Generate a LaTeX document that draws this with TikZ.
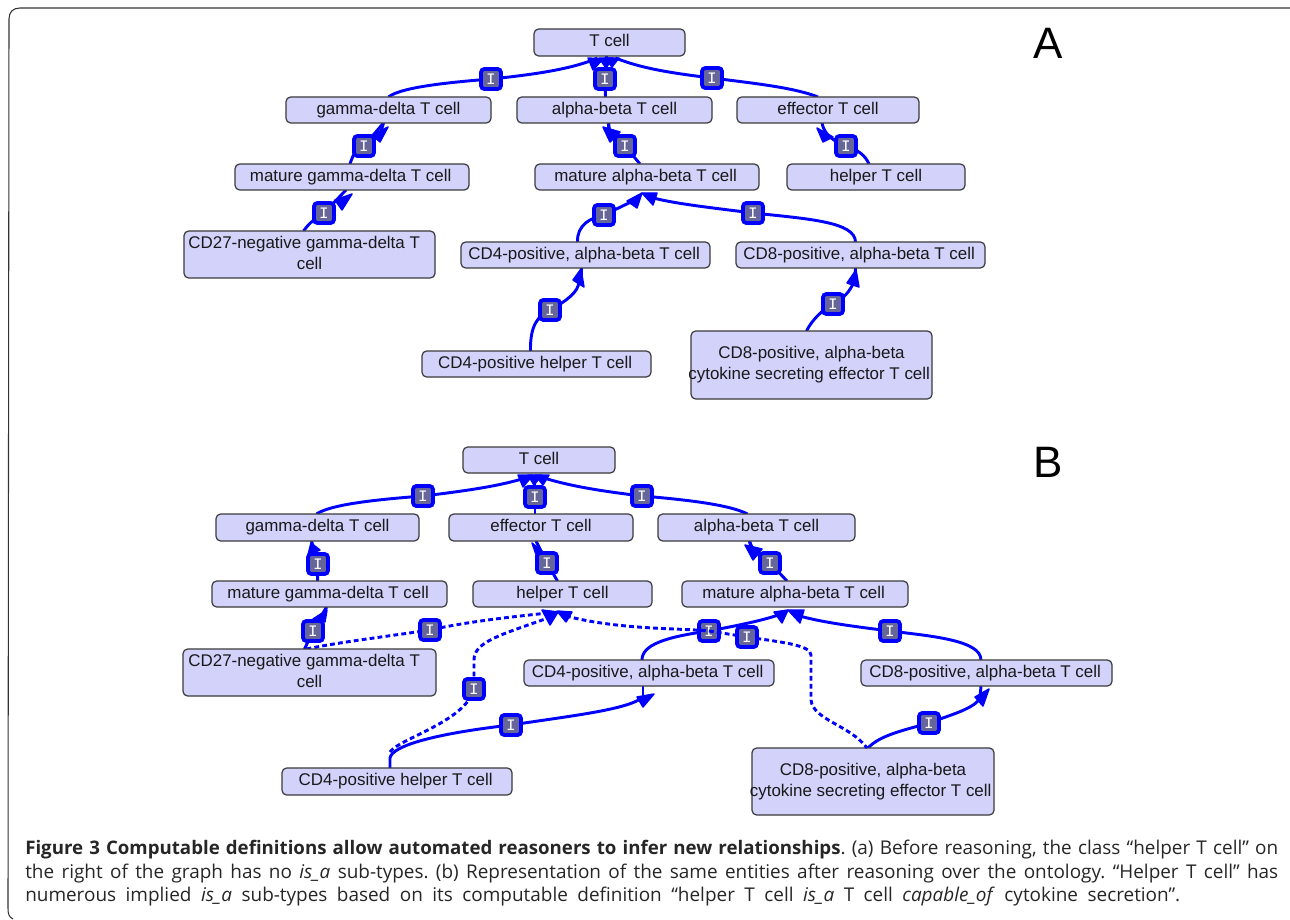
\documentclass[tikz,border=0pt]{standalone}
\usepackage{fontspec}
\setmainfont{Liberation Sans}
\newfontfamily\capfont{Open Sans}
\newfontfamily\badgefont{Liberation Mono}
\usetikzlibrary{calc,backgrounds}
\definecolor{nodefill}{HTML}{D2D2FB}
\definecolor{nodeline}{HTML}{3A3A3A}
\definecolor{badgefill}{HTML}{666699}
\definecolor{linkblue}{HTML}{0000FF}
\tikzset{
  box/.style={draw=nodeline,fill=nodefill,line width=0.9pt,rounded corners=3.5pt,inner sep=0pt,outer sep=0pt,text=black!90},
  badge/.style={draw=linkblue,fill=badgefill,line width=2.8pt,rounded corners=2.5pt,minimum size=15pt,inner sep=0pt,outer sep=0pt,text=white,font=\badgefont\fontsize{12}{12}\selectfont},
  edge/.style={draw=linkblue,line width=2.2pt},
  implied/.style={draw=linkblue,line width=2.2pt,dash pattern=on 3.6pt off 2.4pt},
  bigletter/.style={inner sep=0pt,font=\fontsize{33}{33}\selectfont,text=black},
  head/.style={fill=linkblue,draw=linkblue,line width=1.1pt,line join=round},
  captiontext/.style={anchor=north west,inner sep=0pt,align=left,text=black!85,font=\capfont\fontsize{14.2}{17.6}\selectfont\frenchspacing},
}
\newcommand{\nd}[6]{\node[box,minimum width={(#4-#2)*0.75pt},minimum height={(#5-#3)*0.75pt}] (#1) at ({(#2+#4)/2},{(#3+#5)/2})
  {\fontsize{12.7}{15.75}\selectfont\makebox[0pt][c]{\raisebox{1.5pt}{\begin{tabular}[c]{@{}c@{}}#6\end{tabular}}}};}
\newcommand{\bd}[3]{\node[badge] (#1) at (#2,#3) {I};}
\newcommand{\tri}[3]{\path[head] (#1)--(#2)--(#3)--cycle;}
\begin{document}
\begin{tikzpicture}[x=0.75pt,y=-0.75pt]
\useasboundingbox (0,0) rectangle (1290,920);
% ---------- A nodes
\nd{atc}{534}{29}{685}{56}{T cell}
\nd{agd}{286}{97}{491}{123}{gamma-delta T cell}
\nd{aab}{517}{97}{712}{123}{alpha-beta T cell}
\nd{aef}{737}{97}{919}{123}{effector T cell}
\nd{amg}{235}{164}{469}{190}{mature gamma-delta T cell\kern2pt}
\nd{ama}{535}{164}{759}{190}{mature alpha-beta T cell\kern2pt}
\nd{ahe}{787}{164}{965}{190}{helper T cell}
\nd{acn}{184}{231}{435}{278}{CD27-negative gamma-delta T\kern8pt\\cell}
\nd{acf}{461}{242}{710}{268}{CD4-positive, alpha-beta T cell\kern2pt}
\nd{ace}{736}{242}{985}{268}{CD8-positive, alpha-beta T cell\kern2pt}
\nd{ach}{422}{351}{651}{377}{CD4-positive helper T cell\kern2pt}
\nd{acy}{691}{331}{932}{399}{CD8-positive, alpha-beta\\cytokine secreting effector T cell\kern3.5pt\\ }
% ---------- B nodes
\nd{btc}{463}{447}{615}{473}{T cell}
\nd{bgd}{216}{514}{419}{541}{gamma-delta T cell}
\nd{bef}{449}{514}{633}{541}{effector T cell}
\nd{bab}{658}{514}{855}{541}{alpha-beta T cell}
\nd{bmg}{212}{581}{447}{607}{mature gamma-delta T cell\kern2pt}
\nd{bhe}{473}{581}{652}{607}{helper T cell}
\nd{bma}{682}{581}{908}{607}{mature alpha-beta T cell\kern2pt}
\nd{bcn}{183}{649}{436}{696}{CD27-negative gamma-delta T\kern8pt\\cell}
\nd{bcf}{524}{660}{774}{686}{CD4-positive, alpha-beta T cell\kern2pt}
\nd{bce}{861}{660}{1112}{686}{CD8-positive, alpha-beta T cell\kern2pt}
\nd{bch}{282}{768}{512}{795}{CD4-positive helper T cell\kern2pt}
\nd{bcy}{752}{748}{994}{815}{CD8-positive, alpha-beta\\cytokine secreting effector T cell\kern3.5pt\\ }
% ---------- badges
\bd{a1}{491}{79}\bd{a2}{605}{79}\bd{a3}{712}{78}\bd{a4}{364}{146}\bd{a5}{625}{146}\bd{a6}{846}{146}
\bd{a7}{324}{213}\bd{a8}{604}{215}\bd{a9}{753}{213}\bd{a10}{550}{310}\bd{a11}{833}{304}
\bd{b1}{423}{496}\bd{b2}{535}{497}\bd{b3}{642}{496}\bd{b4}{318}{564}\bd{b5}{547}{563}\bd{b6}{770}{563}
\bd{b7}{313}{631}\bd{b8}{430}{630}\bd{b9}{474}{689}\bd{b10}{511}{725}\bd{b11}{709}{631}\bd{b13}{890}{631}\bd{b14}{929}{723}
% ---------- letters
\node[bigletter] (la) at (1048,43) {A};
\node[bigletter] (lb) at (1048,462) {B};
% ---------- caption
\node[captiontext] (cap) at (25,840)
 {\makebox[939.75pt][s]{{\fontsize{14}{17.6}\selectfont\textbf{Figure 3 Computable definitions allow automated reasoners to infer new relationships}}. (a) Before reasoning, the class “helper T cell” on}\\
 \makebox[939.75pt][s]{the right of the graph has no \textit{is\_a} sub-types. (b) Representation of the same entities after reasoning over the ontology. “Helper T cell” has}\\
 \makebox[866.25pt][s]{numerous implied \textit{is\_a} sub-types based on its computable definition “helper T cell \textit{is\_a} T cell \textit{capable\_of} cytokine secretion”.}};
\begin{pgfonlayer}{background}
\fill[white] (0,0) rectangle (1290,920);
\draw[black!80,line width=0.8pt] (1290,8) -- (20,8) .. controls (13,8) and (9,12) .. (9,19) -- (8,908) .. controls (8,914) and (9,917) .. (13,919);
% ---------- A edges
\draw[edge] (agd.north) .. controls (400,88) and (440,83) .. (a1.center) .. controls (540,74) and (575,68) .. ($(atc.south)+(-12,2)$);
\draw[edge] ($(aab.north)+(-9,0)$) -- (a2.center) -- ($(atc.south)+(-3,0)$);
\draw[edge] ($(aef.north)+(-10,0)$) .. controls (795,88) and (760,84) .. (a3.center) .. controls (670,73) and (640,68) .. ($(atc.south)+(6,2)$);
\draw[edge] ($(amg.north)+(-2,0)$) .. controls (353,155) and (355,150) .. (a4.center) -- ($(agd.south)+(-5,0)$);
\draw[edge] ($(ama.north)+(-7,0)$) -- (a5.center) .. controls (615,140) and (608,135) .. ($(aab.south)+(-6,0)$);
\draw[edge] ($(ahe.north)+(-7,0)$) .. controls (865,155) and (858,150) .. (a6.center) .. controls (835,142) and (824,135) .. ($(aef.south)+(-6,0)$);
\draw[edge] ($(acn.north)+(-6,0)$) .. controls (310,222) and (316,218) .. (a7.center) -- ($(amg.south)+(-6,0)$);
\draw[edge] ($(acf.north)+(-8,0)$) .. controls (577,225) and (590,218) .. (a8.center) -- (633,201);
\draw[edge] ($(ace.north)+(-5,0)$) .. controls (855,222) and (810,219) .. (a9.center) .. controls (705,207) and (670,203) .. (650,197);
\draw[edge] ($(ach.north)+(-6,0)$) .. controls (530,325) and (538,316) .. (a10.center) .. controls (568,300) and (578,292) .. (579,282);
\draw[edge] ($(acy.north)+(-5,0)$) .. controls (812,320) and (822,310) .. (a11.center) .. controls (845,298) and (850,290) .. (853,284);
\draw[edge] ($(agd.south)+(-5,0)$) -- (380,135);
\draw[edge] ($(aab.south)+(-6,0)$) -- (610,135);
\draw[edge] ($(ace.south)+(-5,0)$) -- (855,285);
\draw[edge] ($(acf.south)+(-4,0)$) -- (581,285);
\tri{588,58}{603,59}{593,70}\tri{599,58}{613,58}{606,68}\tri{605,58}{619,58}{612,67}
\tri{603,127}{620,132}{610,142}\tri{817,128}{833,137}{823,142}
\tri{627,201}{642,193}{637,208}\tri{642,193}{657,193}{653,205}
\tri{573,280}{584,287}{581,269}\tri{847,283}{859,287}{856,270}
\tri{372,135}{388,127}{380,142}\tri{335,200}{352,194}{342,210}
% ---------- B edges
\draw[edge] ($(bgd.north)+(-1,0)$) .. controls (330,505) and (370,500) .. (b1.center) .. controls (465,491) and (500,486) .. ($(btc.south)+(-14,5)$);
\draw[edge] (b2.center) -- ($(bef.north)+(-6,0)$);
\draw[edge] (b2.center) -- ($(btc.south)+(-4,2)$);
\draw[edge] ($(bab.north)+(-9,0)$) .. controls (730,505) and (690,500) .. (b3.center) .. controls (600,491) and (570,486) .. ($(btc.south)+(5,5)$);
\draw[edge] ($(bmg.north)+(-12,0)$) -- (b4.center) -- ($(bgd.south)+(-6,0)$);
\draw[edge] ($(bhe.north)+(-5,0)$) -- (b5.center) -- (536,541);
\draw[edge] ($(bma.north)+(-8,0)$) -- (b6.center) .. controls (760,557) and (753,552) .. ($(bab.south)+(-7,0)$);
\draw[edge] ($(bcn.north)+(-5,0)$) -- (b7.center) -- ($(bmg.south)+(-3,0)$);
\draw[edge] ($(bcf.north)+(-7,0)$) .. controls (642,645) and (665,637) .. (b11.center) .. controls (740,625) and (765,620) .. (781,614);
\draw[edge] ($(bce.north)+(-5.5,0)$) .. controls (981,640) and (930,636) .. (b13.center) .. controls (850,626) and (820,622) .. (796,615);
\draw[edge] ($(bcy.north)+(-5,0)$) .. controls (880,735) and (905,730) .. (b14.center) .. controls (950,715) and (970,710) .. (979,700);
\draw[edge] ($(bce.south)+(-5.5,0)$) -- (980,698);
\draw[edge] ($(bch.north)+(-7,0)$) -- ($(bch.north)+(-7,-10)$) .. controls (392,745) and (440,733) .. (b10.center) .. controls (570,716) and (625,710) .. (642,698);
\draw[edge] ($(bcf.south)+(-6,0)$) -- (643,700);
\draw[edge] ($(bab.south)+(-7,0)$) -- (751,548);
\tri{311,543}{320,550}{308,555}\tri{532,543}{543,552}{538,560}\tri{327,610}{313,619}{325,622}
\tri{518,475}{533,475}{523,487}\tri{528,475}{542,475}{534,485}\tri{535,475}{549,475}{543,485}
\tri{542,610}{558,612}{550,625}\tri{557,611}{572,612}{566,622}
\tri{745,545}{762,549}{753,560}\tri{774,612}{788,610}{782,623}\tri{788,610}{804,610}{800,623}
\tri{637,697}{654,694}{643,707}\tri{975,697}{989,689}{983,706}
\draw[edge] ($(bmg.south)+(-3,0)$) -- (323,615);
\draw[implied] ($(bcn.north)+(-3,0)$) .. controls (340,642) and (390,636) .. (b8.center) .. controls (470,621) and (520,616) .. (548,613);
\draw[implied] ($(bch.north)+(-7,-16)$) .. controls (400,738) and (465,722) .. (b9.center) -- (474,660) .. controls (474,642) and (500,635) .. (548,618);
\end{pgfonlayer}
% dashed edge that crosses over the solid badge
\draw[implied] (566,616) .. controls (620,630) and (680,628) .. (b11.center) -- (747,637) .. controls (780,642) and (811,645) .. (811,655) -- (811,700) .. controls (813,720) and (850,725) .. ($(bcy.north)+(-6,0)$);
\node[badge] (b12) at (747,637) {I};
\end{tikzpicture}
\end{document}
